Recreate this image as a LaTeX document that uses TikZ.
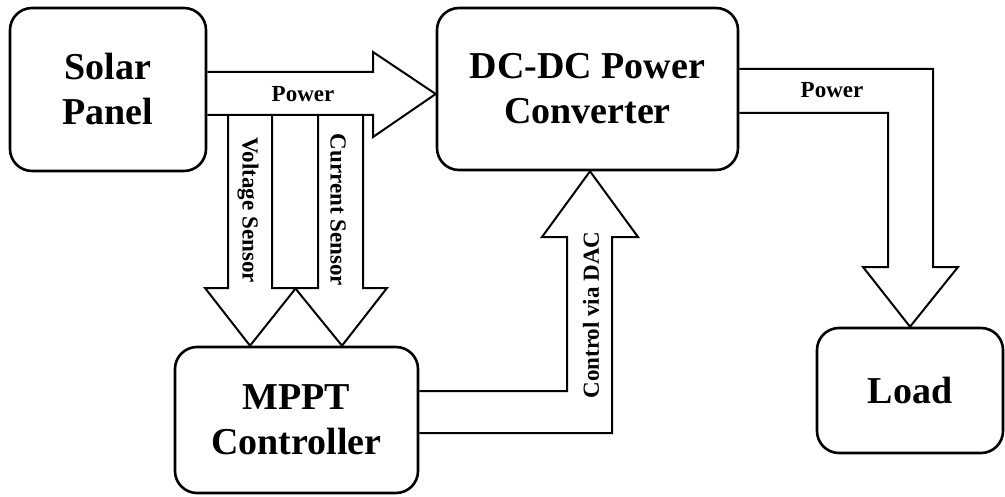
\documentclass[tikz,border=0pt]{standalone}
\usepackage{fontspec}
\setmainfont{Liberation Serif}
\tikzset{
	block/.style={draw, line width=1.3pt, rounded corners=11pt, align=center,
		font=\fontsize{19}{22.5}\selectfont\bfseries},
	flow/.style={line width=1pt, line join=miter},
	lbl/.style={font=\fontsize{11.5}{13}\selectfont\bfseries, inner sep=0pt}
}
\begin{document}
\begin{tikzpicture}[x=0.5pt,y=-0.5pt]
			\useasboundingbox (0,0) rectangle (1005,497);
			
			% Bloecke
			\node[block, minimum width=98pt, minimum height=81.5pt] (solar) at (108,89.5) {Solar\\Panel};
			\node[block, minimum width=150.5pt, minimum height=81pt] (dcdc) at (587.5,89) {DC-DC Power\\Converter};
			\node[block, minimum width=121.5pt, minimum height=73pt] (mppt) at (296.5,420) {MPPT\\Controller};
			\node[block, minimum width=93pt, minimum height=62.5pt] (load) at (910,390.5) {Load};
			
			% Leistungspfeil Panel -> Wandler
			\draw[flow] (solar.east |- 0,72) -- (373,72) -- (373,52) -- (dcdc.west |- 0,94)
				-- (373,137) -- (373,115) -- (solar.east |- 0,115);
			
			% Sensorpfeile (Spannung, Strom) -> MPPT
			\foreach \l/\r/\t in {228/272/250, 318/363/342} {
				\draw[flow] (\l,115) -- (\l,288) -- (\l-23,288) -- (mppt.north -| \t,0)
					-- (\r+24,288) -- (\r,288) -- (\r,115);
			}
			
			% Steuerpfeil MPPT -> Wandler
			\draw[flow] (mppt.east |- 0,391) -- (567,391) -- (567,237) -- (542,237) -- (dcdc.south -| 590,0)
				-- (638,237) -- (612,237) -- (612,433) -- (mppt.east |- 0,433);
			
			% Leistungspfeil Wandler -> Last
			\draw[flow] (dcdc.east |- 0,69) -- (933,69) -- (933,267) -- (958,267) -- (load.north)
				-- (863,267) -- (888,267) -- (888,113) -- (dcdc.east |- 0,113);
			
			% Beschriftungen
			\node[lbl] (pin) at (303,94) {Power};
			\node[lbl] (pout) at (832,90) {Power};
			\node[lbl, rotate=-90] (vs) at (248,210) {Voltage Sensor};
			\node[lbl, rotate=-90] (cs) at (338,210) {Current Sensor};
			\node[lbl, rotate=90] (ctl) at (591,315) {Control via DAC};
\end{tikzpicture}
\end{document}
